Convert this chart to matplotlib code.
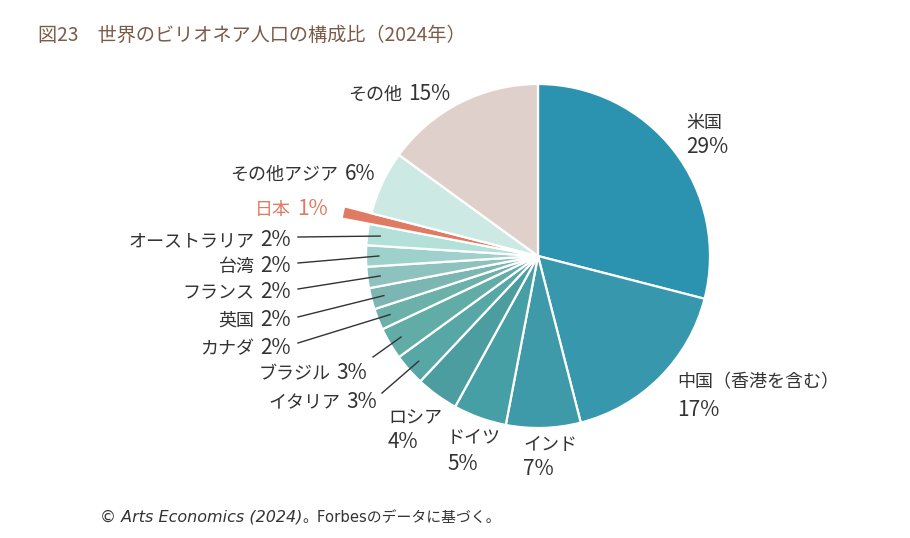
import matplotlib
matplotlib.use('Agg')
from matplotlib import pyplot as plt
import numpy as np

plt.rcParams['font.family'] = ['Noto Sans CJK JP', 'DejaVu Sans']

# data: share of world billionaires (2024), clockwise from top
countries = ['米国', '中国（香港を含む）', 'インド', 'ドイツ', 'ロシア', 'イタリア', 'ブラジル',
             'カナダ', '英国', 'フランス', '台湾', 'オーストラリア', '日本', 'その他アジア', 'その他']
shares = [29, 17, 7, 5, 4, 3, 3, 2, 2, 2, 2, 2, 1, 6, 15]
colors = ['#2b93b0', '#3697ad', '#3e9aa8', '#479fa6', '#4c9d9f', '#56a7a6', '#62aca8',
          '#6cb0aa', '#7cb6b2', '#8dc2be', '#9fd1cc', '#b4e0da', '#e07a62', '#cde9e3', '#e0d0cc']

title = '図23　世界のビリオネア人口の構成比（2024年）'
source_it = '© Arts Economics (2024)'
source_rest = '。Forbesのデータに基づく。'

H = 538
fig = plt.figure(figsize=(9.1, 5.38), dpi=100)
ax = fig.add_axes([0, 0, 1, 1])

cx, cy, rad = 538, H - 256, 172
wedges, _ = ax.pie(shares, colors=colors, startangle=90, counterclock=False,
                   center=(cx, cy), radius=rad, frame=True,
                   wedgeprops=dict(edgecolor='white', linewidth=1.6))
# Japan wedge sticks out
wedges[12].set_radius(200)

ax.set_xlim(0, 910)
ax.set_ylim(0, H)
ax.set_aspect('auto')
ax.axis('off')

r = fig.canvas.get_renderer()
txt = '#333333'
name_fs, pct_fs = 13, 15

# two-line labels: (index, x_left, name_y, pct_y) in pixel coords
two_line = [(0, 686, 123, 147), (1, 677, 382, 410), (2, 523, 445, 469),
            (3, 447, 438, 464), (4, 388, 418, 442)]
for i, x, yn, yp in two_line:
    ax.text(x, H - yn, countries[i], ha='left', va='center', fontsize=name_fs, color=txt)
    ax.text(x, H - yp, f'{shares[i]}%', ha='left', va='center', fontsize=pct_fs, color=txt)

# inline labels: (index, right x, baseline y, leader start or None)
inline = [(14, 450, 100, None), (13, 375, 180, None), (12, 328, 215, None),
          (11, 291, 246, (298, 237)), (10, 291, 272, (298, 263)),
          (9, 291, 298, (298, 289)), (8, 291, 326, (298, 317)),
          (7, 291, 354, (298, 343)), (6, 367, 379, (373, 357)),
          (5, 377, 408, (382, 393))]
for i, xr, yb, lead in inline:
    c = '#e07a62' if i == 12 else txt
    t = ax.text(xr, H - yb, f'{shares[i]}%', ha='right', va='baseline', fontsize=pct_fs, color=c)
    bb = t.get_window_extent(renderer=r)
    ax.text(bb.x0 - 6, H - yb, countries[i], ha='right', va='baseline', fontsize=name_fs, color=c)
    if lead is not None:
        w = wedges[i]
        ang = np.deg2rad((w.theta1 + w.theta2) / 2)
        ex = cx + 0.925 * rad * np.cos(ang)
        ey = cy + 0.925 * rad * np.sin(ang)
        ax.plot([lead[0], ex], [H - lead[1], ey], color=txt, lw=1)

ax.text(38, H - 41, title, ha='left', va='baseline', fontsize=13.8, color='#7b5b48')

t = ax.text(100, H - 522, source_it, ha='left', va='baseline', fontsize=11.5,
            color=txt, style='italic', family=['DejaVu Sans', 'Noto Sans CJK JP'])
bb = t.get_window_extent(renderer=r)
ax.text(bb.x1, H - 522, source_rest, ha='left', va='baseline', fontsize=10.7,
        color=txt, family=['DejaVu Sans', 'Noto Sans CJK JP'])

fig.savefig('out.png', dpi=100)
